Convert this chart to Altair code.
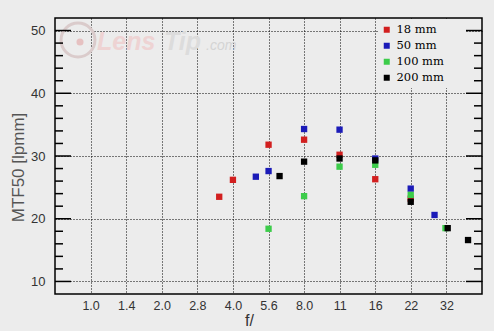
import altair as alt
import pandas as pd

# ---- data ----
f_18 = [3.5, 4.0, 5.66, 8.0, 11.3, 16.0, 22.6]
mtf_18 = [23.5, 26.2, 31.8, 32.6, 30.2, 26.3, 23.2]

f_50 = [5.0, 5.66, 8.0, 11.3, 16.0, 22.6, 28.5]
mtf_50 = [26.7, 27.6, 34.3, 34.2, 29.6, 24.8, 20.6]

f_100 = [5.66, 8.0, 11.3, 16.0, 22.6, 31.7]
mtf_100 = [18.4, 23.6, 28.3, 28.6, 23.8, 18.5]

f_200 = [6.3, 8.0, 11.3, 16.0, 22.6, 32.4, 39.5]
mtf_200 = [26.8, 29.1, 29.6, 29.3, 22.7, 18.5, 16.6]

series = ["18 mm", "50 mm", "100 mm", "200 mm"]
colors = ["#d21f1f", "#1b1bb8", "#3ccc4a", "#000000"]

x_tick_values = [1.0, 1.414, 2.0, 2.828, 4.0, 5.657, 8.0, 11.31, 16.0, 22.63, 32.0]
x_tick_labels = ["1.0", "1.4", "2.0", "2.8", "4.0", "5.6", "8.0", "11", "16", "22", "32"]
y_major = [10, 20, 30, 40, 50]
y_minor = [12, 14, 16, 18, 22, 24, 26, 28, 32, 34, 36, 38, 42, 44, 46, 48]

# ---- tables ----
rows = []
for name, fs, ms in zip(series, [f_18, f_50, f_100, f_200], [mtf_18, mtf_50, mtf_100, mtf_200]):
    for f, m in zip(fs, ms):
        rows.append({"series": name, "f": f, "mtf": m})
df = pd.DataFrame(rows)

major_df = pd.DataFrame({"v": y_major})
minor_df = pd.DataFrame({"v": y_minor})
one = pd.DataFrame({"k": [0]})

# label expression built from the tick lists
expr = f"'{x_tick_labels[-1]}'"
for i in range(len(x_tick_values) - 2, -1, -1):
    mid = (x_tick_values[i] + x_tick_values[i + 1]) / 2
    expr = f"datum.value < {mid:.4f} ? '{x_tick_labels[i]}' : ({expr})"

W, H = 427, 276
BG = "#ececec"

xscale = alt.Scale(type="log", base=2, domain=[0.7071, 45.25], nice=False, zero=False)
yscale = alt.Scale(domain=[8, 52], nice=False, zero=False)

xaxis = alt.Axis(
    values=x_tick_values, labelExpr=expr, title="f/", grid=True, gridColor="#000000",
    gridDash=[1, 2], gridWidth=1, gridOpacity=1, domain=False, ticks=False, tickSize=0,
    labelFont="Liberation Sans", labelFontSize=12.5, labelColor="#333333", labelPadding=5,
    labelFlush=False, titleFont="Liberation Sans", titleFontSize=16, titleFontWeight="normal",
    titleColor="#333333", titleX=194, titleY=31, titleBaseline="alphabetic", titleAlign="center",
)
yaxis = alt.Axis(
    values=y_major, title="MTF50 [lpmm]", grid=True, gridColor="#000000", gridDash=[1, 2],
    gridWidth=1, gridOpacity=1, domain=False, ticks=False, tickSize=0,
    labelFont="Liberation Sans", labelFontSize=13, labelColor="#333333", labelPadding=10,
    titleFont="Liberation Sans", titleFontSize=17, titleFontWeight="normal", titleColor="#555555",
    titleX=-37, titleY=149, titleBaseline="middle", titleAlign="center", titleAngle=-90,
)

# faint watermark
wm_circle = alt.Chart(one).mark_point(
    shape="circle", filled=False, size=1150, color="#dacbcb", strokeWidth=3, opacity=1
).encode(x=alt.value(23), y=alt.value(22))
wm_dot = alt.Chart(one).mark_point(
    shape="circle", filled=True, size=50, color="#e6bcbc", opacity=0.9
).encode(x=alt.value(25), y=alt.value(24))
wm_lens = alt.Chart(one).mark_text(
    text="Lens", font="Liberation Sans", fontSize=25, fontWeight="bold", fontStyle="italic",
    color="#eed3d3", align="left", baseline="alphabetic"
).encode(x=alt.value(42), y=alt.value(32))
wm_tip = alt.Chart(one).mark_text(
    text="Tip", font="Liberation Sans", fontSize=25, fontWeight="bold", fontStyle="italic",
    color="#dcdcdc", align="left", baseline="alphabetic"
).encode(x=alt.value(109), y=alt.value(32))
wm_com = alt.Chart(one).mark_text(
    text=".com", font="Liberation Sans", fontSize=14, fontStyle="italic",
    color="#d4d4d4", align="left", baseline="alphabetic"
).encode(x=alt.value(151), y=alt.value(32))

# legend backdrop (hides grid behind legend)
legend_bg = alt.Chart(one).mark_rect(color=BG).encode(
    x=alt.value(323), x2=alt.value(411), y=alt.value(1), y2=alt.value(70)
)

# inward tick marks on both sides
left_major = alt.Chart(major_df).mark_rule(color="#000000", strokeWidth=1.5).encode(
    y=alt.Y("v:Q", scale=yscale, axis=yaxis), x=alt.value(0), x2=alt.value(16))
left_minor = alt.Chart(minor_df).mark_rule(color="#000000", strokeWidth=1.5).encode(
    y=alt.Y("v:Q", scale=yscale), x=alt.value(0), x2=alt.value(8))
right_major = alt.Chart(major_df).mark_rule(color="#000000", strokeWidth=1.5).encode(
    y=alt.Y("v:Q", scale=yscale), x=alt.value(W - 16), x2=alt.value(W))
right_minor = alt.Chart(minor_df).mark_rule(color="#000000", strokeWidth=1.5).encode(
    y=alt.Y("v:Q", scale=yscale), x=alt.value(W - 8), x2=alt.value(W))

points = alt.Chart(df).mark_square(size=40, opacity=1).encode(
    x=alt.X("f:Q", scale=xscale, axis=xaxis),
    y=alt.Y("mtf:Q", scale=yscale, axis=yaxis),
    color=alt.Color(
        "series:N",
        scale=alt.Scale(domain=series, range=colors),
        legend=alt.Legend(
            title=None, orient="none", legendX=326, legendY=6, padding=0,
            symbolType="square", symbolSize=36, symbolStrokeWidth=0,
            labelFont="DejaVu Serif", labelFontSize=11.5, labelColor="#000000",
            labelOffset=4, rowPadding=3,
        ),
    ),
)

chart = alt.layer(
    wm_circle, wm_dot, wm_lens, wm_tip, wm_com,
    legend_bg, left_major, left_minor, right_major, right_minor, points,
).properties(
    width=W, height=H, background=BG,
    padding={"left": 55, "top": 18, "right": 12, "bottom": 37},
    autosize=alt.AutoSizeParams(type="none"),
).configure_view(
    stroke="#000000", strokeWidth=1.5, fill=BG
)

chart.save("out.html", embed_options={"renderer": "svg", "actions": False})
